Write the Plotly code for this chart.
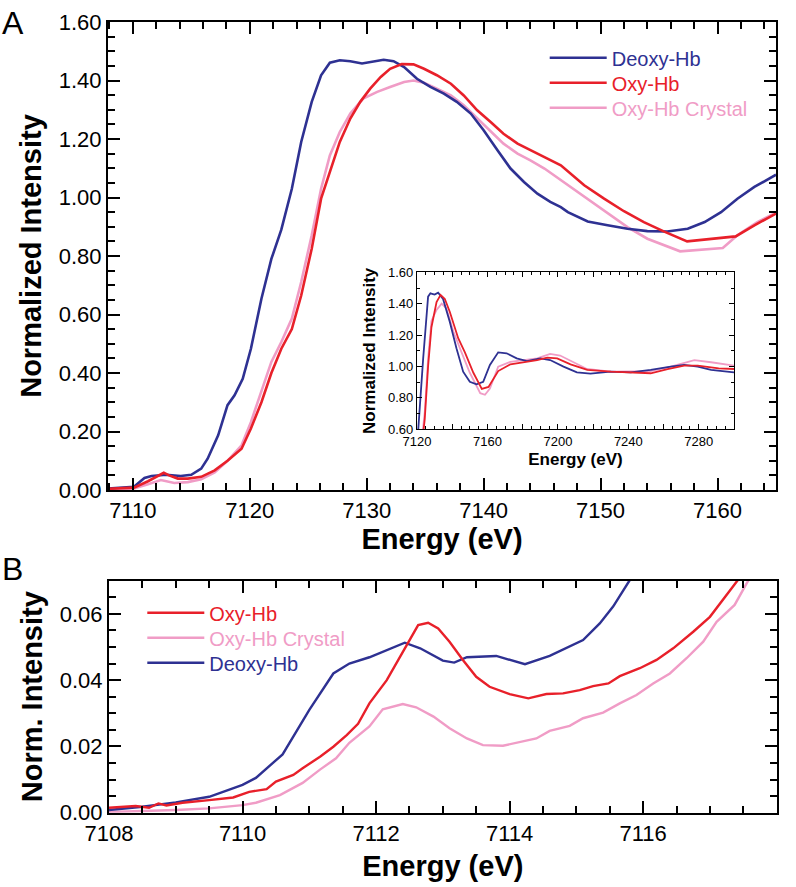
import plotly.graph_objects as go

# ---------------- Data ----------------
a_deoxy_e = [7107.88, 7109.0, 7110.1, 7111.0, 7111.6, 7112.85, 7114.1, 7115.0, 7115.85, 7116.4, 7117.3, 7118.1,
             7118.7, 7119.4, 7120.1, 7121.0, 7121.85, 7122.7, 7123.6, 7124.4, 7125.3, 7126.1, 7126.85, 7127.7,
             7128.6, 7129.6, 7130.6, 7131.45, 7132.3, 7133.2, 7134.3, 7135.45, 7136.6, 7137.7, 7138.9, 7140.0,
             7141.2, 7142.3, 7143.45, 7144.6, 7145.7, 7146.6, 7147.2, 7148.9, 7150.6, 7152.3, 7154.0, 7155.7,
             7157.45, 7158.9, 7160.3, 7161.7, 7163.15, 7164.6, 7165.0]
a_deoxy_i = [0.005, 0.007, 0.011, 0.041, 0.048, 0.052, 0.048, 0.052, 0.073, 0.107, 0.187, 0.29,
             0.324, 0.38, 0.483, 0.654, 0.79, 0.89, 1.03, 1.19, 1.327, 1.418, 1.461, 1.469,
             1.466, 1.458, 1.466, 1.471, 1.466, 1.446, 1.406, 1.378, 1.355, 1.327, 1.287, 1.23,
             1.161, 1.099, 1.053, 1.013, 0.985, 0.967, 0.95, 0.918, 0.905, 0.893, 0.885, 0.884,
             0.893, 0.916, 0.95, 0.996, 1.036, 1.07, 1.078]

a_oxy_e = [7107.88, 7109.0, 7110.1, 7111.3, 7112.1, 7112.65, 7113.1, 7113.85, 7114.7, 7115.85, 7117.0, 7118.1,
           7119.3, 7120.1, 7121.0, 7121.85, 7122.7, 7123.6, 7124.4, 7125.3, 7126.1, 7126.9, 7127.7, 7128.6,
           7129.45, 7130.3, 7131.2, 7132.0, 7133.0, 7134.0, 7134.9, 7136.0, 7137.2, 7138.3, 7139.45, 7140.6,
           7141.7, 7142.9, 7144.0, 7145.2, 7146.6, 7148.6, 7150.3, 7152.0, 7153.7, 7155.4, 7157.4, 7159.4,
           7161.55, 7163.15, 7165.0]
a_oxy_i = [0.004, 0.005, 0.008, 0.03, 0.048, 0.059, 0.05, 0.039, 0.039, 0.045, 0.067, 0.1,
           0.141, 0.21, 0.30, 0.40, 0.483, 0.55, 0.665, 0.825, 0.996, 1.09, 1.19, 1.27,
           1.327, 1.372, 1.412, 1.44, 1.456, 1.455, 1.44, 1.418, 1.389, 1.349, 1.298, 1.258,
           1.218, 1.184, 1.161, 1.138, 1.11, 1.042, 0.996, 0.953, 0.916, 0.884, 0.85, 0.857,
           0.867, 0.905, 0.945]

a_cryst_e = [7107.88, 7109.0, 7110.1, 7111.3, 7112.4, 7113.55, 7114.7, 7115.85, 7117.0, 7118.1, 7119.3, 7120.1,
             7121.0, 7121.85, 7122.7, 7123.6, 7124.4, 7125.3, 7126.1, 7126.85, 7127.7, 7128.6, 7129.7, 7130.9,
             7132.0, 7133.2, 7134.0, 7134.9, 7136.0, 7137.2, 7138.3, 7139.45, 7140.6, 7141.7, 7142.9, 7144.0,
             7145.2, 7146.6, 7148.9, 7150.6, 7152.3, 7154.0, 7156.8, 7160.45, 7161.7, 7163.4, 7165.0]
a_cryst_i = [0.002, 0.003, 0.005, 0.02, 0.034, 0.024, 0.027, 0.037, 0.06, 0.10, 0.153, 0.232,
             0.335, 0.438, 0.506, 0.586, 0.711, 0.871, 1.03, 1.144, 1.224, 1.287, 1.338, 1.361,
             1.378, 1.395, 1.40, 1.392, 1.372, 1.349, 1.315, 1.27, 1.224, 1.184, 1.15, 1.127,
             1.099, 1.059, 0.996, 0.945, 0.899, 0.859, 0.816, 0.827, 0.871, 0.916, 0.948]

in_deoxy_e = [7120, 7121, 7123.5, 7126.3, 7127.6, 7130, 7132, 7134.8, 7138.6, 7142.4, 7146.2, 7150, 7153.8,
              7157.6, 7161.4, 7166.1, 7170.9, 7176.6, 7182.4, 7190, 7195.6, 7203.2, 7210.8, 7218.5, 7229.9,
              7241.3, 7252.7, 7264.1, 7271.7, 7279.4, 7287, 7300]
in_deoxy_i = [0.483, 0.654, 1.05, 1.445, 1.466, 1.458, 1.47, 1.43, 1.285, 1.116, 0.967, 0.903, 0.886,
              0.903, 1.01, 1.09, 1.084, 1.052, 1.035, 1.052, 1.041, 0.999, 0.963, 0.954, 0.967,
              0.963, 0.978, 0.999, 1.01, 0.999, 0.978, 0.963]

in_oxy_e = [7120, 7122, 7124.4, 7126.3, 7128.2, 7131.1, 7133.4, 7135.8, 7138.6, 7143.4, 7147.2, 7152, 7156.8,
            7160.6, 7166.1, 7173, 7180.6, 7188.2, 7193.9, 7199.6, 7207.2, 7216.7, 7230, 7241.3, 7252.7,
            7262.3, 7271.7, 7279.4, 7291.3, 7300]
in_oxy_i = [0.21, 0.42, 0.665, 1.0, 1.25, 1.41, 1.456, 1.43, 1.349, 1.18, 1.09, 0.96, 0.857,
            0.87, 0.971, 1.014, 1.027, 1.041, 1.056, 1.052, 1.014, 0.978, 0.967, 0.963, 0.957,
            0.984, 1.005, 1.005, 0.988, 0.984]

in_cryst_e = [7120, 7122, 7124.4, 7126.3, 7128.2, 7131.1, 7134, 7136.7, 7140.6, 7145.3, 7150, 7155.9, 7158.6,
              7161.4, 7166.1, 7173, 7180.6, 7188.2, 7195.6, 7201.3, 7208.9, 7216.5, 7230, 7241.3, 7252.7,
              7264.1, 7277.5, 7287, 7300]
in_cryst_i = [0.232, 0.45, 0.711, 1.05, 1.29, 1.36, 1.40, 1.37, 1.224, 1.09, 0.96, 0.83, 0.82,
              0.86, 0.999, 1.03, 1.041, 1.052, 1.08, 1.07, 1.027, 0.984, 0.967, 0.967, 0.971,
              0.999, 1.041, 1.027, 1.005]

b_deoxy_e = [7108.0, 7108.5, 7109.0, 7109.5, 7110.0, 7110.2, 7110.6, 7111.0, 7111.36, 7111.6, 7111.9, 7112.16,
             7112.43, 7112.66, 7113.0, 7113.17, 7113.36, 7113.8, 7114.23, 7114.6, 7115.1, 7115.35, 7115.55,
             7115.8, 7116.0]
b_deoxy_i = [0.0008, 0.0018, 0.0031, 0.0048, 0.0084, 0.0105, 0.0176, 0.031, 0.042, 0.045, 0.0469, 0.049,
             0.0513, 0.0496, 0.0459, 0.0453, 0.0469, 0.0473, 0.0448, 0.0473, 0.0521, 0.0571, 0.0622,
             0.0702, 0.077]

b_oxy_e = [7108.0, 7108.4, 7108.6, 7108.74, 7108.86, 7109.1, 7109.5, 7109.86, 7110.1, 7110.36, 7110.5, 7110.76,
           7110.9, 7111.16, 7111.36, 7111.56, 7111.73, 7111.9, 7112.16, 7112.36, 7112.5, 7112.63, 7112.78,
           7112.93, 7113.1, 7113.3, 7113.5, 7113.7, 7114.0, 7114.28, 7114.55, 7114.8, 7115.05, 7115.25,
           7115.48, 7115.65, 7115.95, 7116.2, 7116.45, 7116.75, 7117.0, 7117.15, 7117.4, 7117.6]
b_oxy_i = [0.0015, 0.002, 0.0015, 0.0028, 0.0022, 0.003, 0.0038, 0.0046, 0.0063, 0.0071, 0.0094, 0.0114,
           0.0134, 0.0169, 0.0199, 0.0234, 0.0268, 0.033, 0.040, 0.0471, 0.0521, 0.0566, 0.0573,
           0.0556, 0.0516, 0.0461, 0.041, 0.038, 0.0358, 0.0345, 0.0358, 0.036, 0.037, 0.0382,
           0.039, 0.0412, 0.0436, 0.0461, 0.0496, 0.0546, 0.0591, 0.0632, 0.0697, 0.075]

b_cryst_e = [7108.0, 7108.5, 7109.0, 7109.5, 7110.0, 7110.2, 7110.56, 7110.9, 7111.16, 7111.4, 7111.6, 7111.9,
             7112.1, 7112.4, 7112.6, 7112.86, 7113.1, 7113.36, 7113.6, 7113.9, 7114.2, 7114.4, 7114.6, 7114.9,
             7115.1, 7115.4, 7115.65, 7115.9, 7116.15, 7116.4, 7116.65, 7116.9, 7117.1, 7117.37, 7117.55,
             7117.75]
b_cryst_i = [0.0002, 0.0004, 0.0008, 0.0013, 0.0023, 0.003, 0.0053, 0.009, 0.013, 0.0164, 0.0211, 0.026,
             0.0312, 0.0328, 0.0318, 0.029, 0.0255, 0.0224, 0.0204, 0.0202, 0.0214, 0.0224, 0.0247, 0.0262,
             0.0285, 0.0302, 0.033, 0.0355, 0.039, 0.042, 0.0466, 0.0516, 0.0576, 0.0627, 0.0692,
             0.076]

names = {"deoxy": "Deoxy-Hb", "oxy": "Oxy-Hb", "cryst": "Oxy-Hb Crystal"}

# Tick labels
a_x_ticks = [7110, 7120, 7130, 7140, 7150, 7160]
a_y_ticks = [0.0, 0.2, 0.4, 0.6, 0.8, 1.0, 1.2, 1.4, 1.6]
in_x_ticks = [7120, 7140, 7160, 7180, 7200, 7220, 7240, 7260, 7280, 7300]
in_x_labels = ["7120", "", "7160", "", "7200", "", "7240", "", "7280", ""]
in_y_ticks = [0.6, 0.8, 1.0, 1.2, 1.4, 1.6]
b_x_ticks = [7108, 7110, 7112, 7114, 7116, 7118]
b_y_ticks = [0.0, 0.02, 0.04, 0.06]

# ---------------- Styles ----------------
BLUE = "#2e3192"
RED = "#e8202a"
PINK = "#f09cc6"
FONT = "Liberation Sans"
W, H = 796, 887

A_BOX = (108, 776, 22, 490)       # left, right, top, bottom in px
IN_BOX = (417, 734, 272.3, 429.3)
B_BOX = (109, 776.7, 580.7, 812.7)


def px_x(p):
    return p / W


def px_y(p):
    return 1 - p / H


def lbl(name, color):
    return f"<span style='color:{color}'>{name}</span>"


fig = go.Figure()

fig.add_trace(go.Scatter(x=a_cryst_e, y=a_cryst_i, mode="lines", name=lbl(names["cryst"], PINK),
                         line=dict(color=PINK, width=2.6), xaxis="x", yaxis="y", legend="legend3"))
fig.add_trace(go.Scatter(x=a_deoxy_e, y=a_deoxy_i, mode="lines", name=lbl(names["deoxy"], BLUE),
                         line=dict(color=BLUE, width=2.6), xaxis="x", yaxis="y", legend="legend"))
fig.add_trace(go.Scatter(x=a_oxy_e, y=a_oxy_i, mode="lines", name=lbl(names["oxy"], RED),
                         line=dict(color=RED, width=2.6), xaxis="x", yaxis="y", legend="legend2"))

fig.add_trace(go.Scatter(x=in_cryst_e, y=in_cryst_i, mode="lines", showlegend=False,
                         line=dict(color=PINK, width=1.8), xaxis="x2", yaxis="y2"))
fig.add_trace(go.Scatter(x=in_deoxy_e, y=in_deoxy_i, mode="lines", showlegend=False,
                         line=dict(color=BLUE, width=1.8), xaxis="x2", yaxis="y2"))
fig.add_trace(go.Scatter(x=in_oxy_e, y=in_oxy_i, mode="lines", showlegend=False,
                         line=dict(color=RED, width=1.8), xaxis="x2", yaxis="y2"))

fig.add_trace(go.Scatter(x=b_cryst_e, y=b_cryst_i, mode="lines", name=lbl(names["cryst"], PINK),
                         line=dict(color=PINK, width=2.4), xaxis="x3", yaxis="y3", legend="legend5"))
fig.add_trace(go.Scatter(x=b_deoxy_e, y=b_deoxy_i, mode="lines", name=lbl(names["deoxy"], BLUE),
                         line=dict(color=BLUE, width=2.4), xaxis="x3", yaxis="y3", legend="legend6"))
fig.add_trace(go.Scatter(x=b_oxy_e, y=b_oxy_i, mode="lines", name=lbl(names["oxy"], RED),
                         line=dict(color=RED, width=2.4), xaxis="x3", yaxis="y3", legend="legend4"))

title_font = dict(family=FONT, size=29, color="black", weight="bold")
inset_title_font = dict(family=FONT, size=17, color="black", weight="bold")


def axis(size, lw, box, rng, horizontal, anchor, ticklen, minorlen, tw, minor_dtick, minor_tick0):
    left, right, top, bottom = box
    d = dict(showline=True, linecolor="black", linewidth=lw, mirror="allticks", ticks="inside",
             ticklen=ticklen, tickwidth=tw, tickcolor="black", showgrid=False, zeroline=False,
             range=list(rng), anchor=anchor, layer="above traces",
             tickfont=dict(family=FONT, size=size, color="black"),
             minor=dict(ticks="inside", ticklen=minorlen, tickwidth=tw, tickcolor="black",
                        dtick=minor_dtick, tick0=minor_tick0, showgrid=False))
    d["domain"] = [px_x(left), px_x(right)] if horizontal else [px_y(bottom), px_y(top)]
    return d


xa = axis(22, 2, A_BOX, (7107.88, 7165), True, "y", 12, 7, 2, 2, 7110)
xa.update(tickmode="array", tickvals=a_x_ticks, tickformat="d",
          title=dict(text="Energy (eV)", font=title_font, standoff=0))
ya = axis(22, 2, A_BOX, (0.0, 1.6), False, "x", 12, 7, 2, 0.05, 0.0)
ya.update(tickmode="array", tickvals=a_y_ticks, tickformat=".2f",
          title=dict(text="Normalized Intensity", font=title_font, standoff=9))

xa2 = axis(13, 1.2, IN_BOX, (7120, 7300), True, "y2", 5, 3, 1, 5, 7120)
xa2.update(tickmode="array", tickvals=in_x_ticks, ticktext=in_x_labels,
           title=dict(text="Energy (eV)", font=inset_title_font, standoff=5))
ya2 = axis(13, 1.2, IN_BOX, (0.6, 1.6), False, "x2", 5, 3, 1, 0.1, 0.6)
ya2.update(tickmode="array", tickvals=in_y_ticks, tickformat=".2f",
           title=dict(text="Normalized Intensity", font=inset_title_font, standoff=8))

xa3 = axis(22, 2, B_BOX, (7108, 7118), True, "y3", 12, 7, 2, 0.5, 7108)
xa3.update(tickmode="array", tickvals=b_x_ticks, tickformat="d",
           title=dict(text="Energy (eV)", font=title_font, standoff=11))
ya3 = axis(22, 2, B_BOX, (0.0, 0.07), False, "x3", 12, 7, 2, 0.005, 0.0)
ya3.update(tickmode="array", tickvals=b_y_ticks, tickformat=".2f",
           title=dict(text="Norm. Intensity", font=title_font, standoff=9))

legend_font = dict(family=FONT, size=20, color="black")
OFF_Y = 20
OFF_X = 67


def leg(x_text_start, row_center):
    return dict(x=px_x(x_text_start - OFF_X), y=px_y(row_center - OFF_Y), xanchor="left", yanchor="top",
                bgcolor="rgba(0,0,0,0)", font=legend_font, itemwidth=57)


fig.update_layout(
    width=W, height=H,
    margin=dict(l=0, r=0, t=0, b=0, autoexpand=False),
    paper_bgcolor="white", plot_bgcolor="white",
    font=dict(family=FONT),
    xaxis=xa, yaxis=ya, xaxis2=xa2, yaxis2=ya2, xaxis3=xa3, yaxis3=ya3,
    legend=leg(611.7, 58.3), legend2=leg(611.7, 83.3), legend3=leg(611.7, 108.3),
    legend4=leg(209.3, 613.3), legend5=leg(209.3, 638.3), legend6=leg(209.3, 663.3),
    annotations=[
        dict(text="A", x=0, y=px_y(23.5), xref="paper", yref="paper", xanchor="left", yanchor="middle",
             showarrow=False, font=dict(family=FONT, size=32, color="black")),
        dict(text="B", x=0, y=px_y(569), xref="paper", yref="paper", xanchor="left", yanchor="middle",
             showarrow=False, font=dict(family=FONT, size=32, color="black")),
    ],
)

fig.write_html("out.html", config={"displayModeBar": False},
               post_script="document.body.style.margin='0';document.body.style.overflow='hidden';")
